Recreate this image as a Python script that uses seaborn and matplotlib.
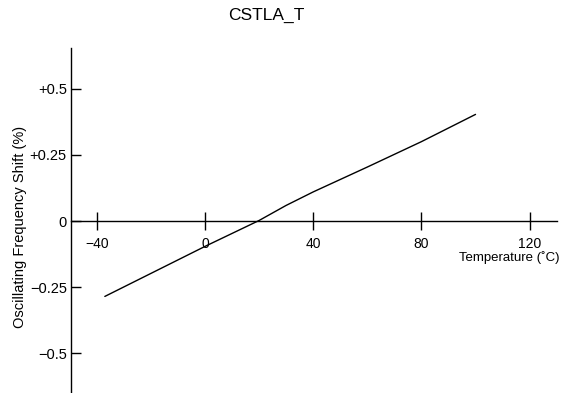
import matplotlib
matplotlib.use("Agg")
import matplotlib.pyplot as plt
import seaborn as sns
import pandas as pd

# --- Data ---
temperature = [-37, 0, 20, 30, 40, 60, 80, 100]
freq_shift = [-0.285, -0.096, 0.002, 0.059, 0.110, 0.204, 0.30, 0.403]

x_ticks = [-40, 0, 40, 80, 120]
x_tick_labels = ["\u221240", "0", "40", "80", "120"]
y_ticks = [0.5, 0.25, 0, -0.25, -0.5]
y_tick_labels = ["+0.5", "+0.25", "0", "\u22120.25", "\u22120.5"]

df = pd.DataFrame({"temp": temperature, "shift": freq_shift})

sns.set_style("white", {"xtick.bottom": True, "ytick.left": True,
                        "text.color": "black", "axes.labelcolor": "black",
                        "xtick.color": "black", "ytick.color": "black"})
plt.rcParams["font.family"] = ["Liberation Sans", "DejaVu Sans"]

fig = plt.figure(figsize=(5.69, 3.93), dpi=100)
ax = fig.add_axes([71 / 569, 0.0, (556.7 - 71) / 569, 345 / 393])

sns.lineplot(data=df, x="temp", y="shift", color="black", linewidth=1.0, ax=ax)

ax.set_xlim(-49.5, 130)
ax.set_ylim(-0.65, 0.654)

# axis lines: y spine on the left, x spine through zero
for side in ["top", "right"]:
    ax.spines[side].set_visible(False)
ax.spines["bottom"].set_position(("data", 0))
for side in ["left", "bottom"]:
    ax.spines[side].set_color("black")
    ax.spines[side].set_linewidth(1.0)

ax.set_xticks(x_ticks)
ax.set_xticklabels(x_tick_labels)
ax.set_yticks(y_ticks)
ax.set_yticklabels(y_tick_labels)
ax.tick_params(axis="x", bottom=True, direction="inout", length=13, width=1.0, pad=5,
               labelsize=10, colors="black")
ax.tick_params(axis="y", left=True, direction="in", length=7.5, width=1.0, pad=3,
               labelsize=10.5, colors="black")

ax.set_xlabel("Temperature (\u02daC)", fontsize=9.5, ha="right", va="center", color="black")
ax.xaxis.set_label_coords(1.005, 0.394)
ax.set_ylabel("Oscillating Frequency Shift (%)", fontsize=10.5, va="center", color="black")
ax.yaxis.set_label_coords(-0.105, 0.48)

fig.text(266 / 569, 1 - 15.5 / 393, "CSTLA_T", fontsize=12.5, ha="center", va="center",
         color="black")

plt.savefig("out.png", dpi=100)
